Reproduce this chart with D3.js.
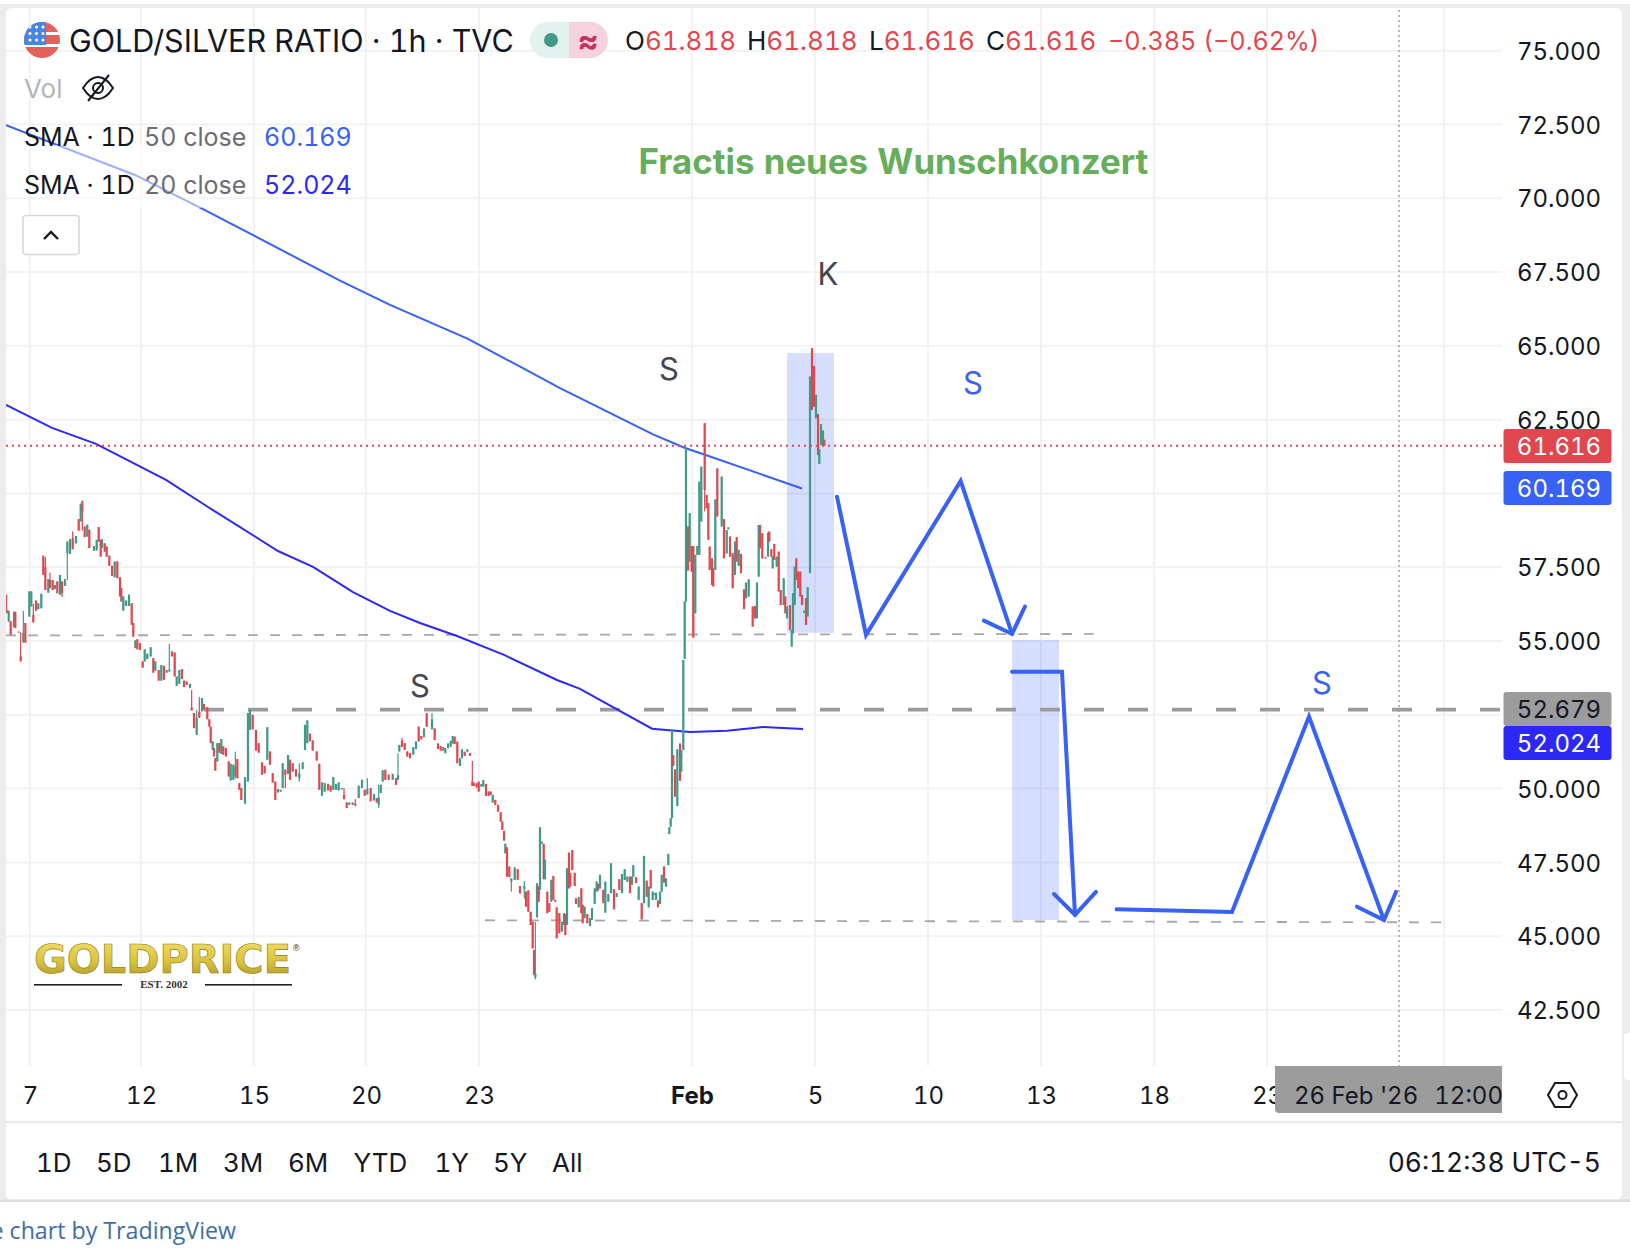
<!DOCTYPE html>
<html>
<head>
<meta charset="utf-8">
<title>Gold/Silver Ratio</title>
<script src="https://cdn.jsdelivr.net/npm/d3@7"></script>
<style>
  html, body { margin: 0; padding: 0; background: #fff; }
  svg { display: block; font-family: Inter, "Noto Sans", sans-serif; font-variant-numeric: tabular-nums; font-feature-settings: "tnum" 1; }
  text { fill: #131722; }
</style>
</head>
<body>
<div id="chart"></div>
<script>
// time is in "slots" along the compressed trading axis, price is the ratio
const priceTicks = [75, 72.5, 70, 67.5, 65, 62.5, 60, 57.5, 55, 52.5, 50, 47.5, 45, 42.5];
const priceLabels = [75, 72.5, 70, 67.5, 65, 62.5, 57.5, 55, 50, 47.5, 45, 42.5];
const timeTicks = [90, 423, 762, 1098, 1437, 2076, 2445, 2784, 3123, 3462, 3801, 4332];
const timeLabels = ["7", "12", "15", "20", "23", "Feb", "5", "10", "13", "18", "23", ""];
const rangeButtons = [["1D", 36], ["5D", 96], ["1M", 158], ["3M", 223], ["6M", 288], ["YTD", 353.5], ["1Y", 434.5], ["5Y", 493], ["All", 552]];

const lastPrice = 61.616;
const sma50Last = 60.169;
const sma20Last = 52.024;
const resistance = 52.679;

// [t, open, close, high, low]  (high/low left out where there is no visible wick)
const candles = [
  [20,56.05,55.95,56.57,55.94],[26,55.66,56.03],[32,55.67,55.21],[42,55.47,55.99],[46,55.99,55.44],[56,55.32,55.29],
  [62,54.48,54.31,55.29],[70,54.95,55.27,56.02],[76,55.61,54.95],[88,55.83,56.68],[94,56.17,56.68],[100,55.89,55.63,56.26],
  [108,56.37,56.03],[115,56.08,56.28],[124,56.11,56.60],[130,57.89,57.24],[136,57.50,56.73,57.84],[145,56.64,57.10],
  [150,57.07,56.79,57.32],[158,57.07,56.73],[165,56.76,56.90],[172,57.02,56.62],[180,56.57,57.24],[186,57.02,56.62,57.02,56.49],
  [195,56.87,57.10],[202,57.98,58.37,58.37,57.07],[210,57.95,58.45],[218,58.48,58.11,58.71],[228,58.31,58.56],[236,59.13,58.74],
  [242,59.05,59.65],[247,59.73,59.39,59.76,58.74],[254,58.88,58.52],[262,58.54,58.94],[268,58.77,58.15],[282,58.06,58.22],
  [290,58.07,58.43],[296,58.86,58.37],[302,58.43,57.86],[306,58.15,58.45],[314,58.31,58.03],[320,58.20,57.86],[328,57.89,57.55],
  [336,57.55,57.21],[344,57.16,57.69],[352,57.70,57.13],[360,57.16,56.51],[364,56.79,56.34],[370,56.03,56.51],[378,56.19,56.37],
  [387,56.19,56.57],[395,56.28,55.55],[400,55.61,55.15],[406,54.76,55.02],[412,55.06,54.72],[420,54.93,54.70],[428,54.31,54.10],
  [434,54.31,54.72],[442,54.39,54.57],[452,54.48,54.79],[460,54.42,53.93],[466,54.00,54.31],[476,54.02,53.66],[484,53.66,54.19],
  [492,54.16,53.69],[500,53.93,54.02],[508,53.97,54.03,54.90],[516,54.65,54.48],[524,54.61,53.80],[530,53.48,53.80],[538,53.55,54.02],
  [546,54.05,53.71],[552,53.66,53.44],[560,53.63,53.52],[570,53.41,53.55],[575,52.75,52.65,53.35],[582,52.56,52.05],
  [590,51.82,52.39,52.67],[598,52.60,52.40,53.10],[606,52.62,53.07],[612,52.87,52.67],[622,52.76,52.35],[628,52.35,52.10],
  [632,52.10,51.54],[638,51.31,51.60],[642,51.37,51.09],[646,51.03,50.61],[652,50.92,51.54],[658,51.54,51.22],[664,51.18,51.68],
  [670,51.43,51.15],[678,51.37,51.09],[686,50.92,50.41],[692,50.28,50.84],[700,50.30,50.81],[706,50.45,50.75,51.25,50.35],
  [712,51.00,50.35],[718,50.19,49.96],[724,50.02,49.62],[735,49.49,50.39],[744,50.24,52.56],[750,51.99,52.67],[758,52.50,52.01],
  [768,51.99,51.29],[776,51.54,51.22],[786,50.89,50.47],[794,50.77,50.52],[802,50.98,52.08],[810,51.26,50.81],[818,50.52,50.21],
  [826,50.24,49.62],[834,49.87,49.98],[842,49.90,49.96],[848,50.02,50.86],[856,50.64,50.47,50.64,50.02],[864,50.50,51.14],
  [870,50.98,50.30],[878,50.86,50.58],[888,50.66,50.41],[898,50.35,50.52,50.86,50.24],[908,50.66,50.89],[915,51.31,52.16],
  [922,51.54,52.31],[930,51.86,51.60],[938,51.63,51.29],[950,51.26,50.95],[958,50.84,49.96],[966,49.76,50.21],[974,49.90,50.19],
  [984,50.16,49.94],[992,50.10,49.90],[1000,49.96,50.39],[1008,49.96,50.16],[1016,49.94,50.21],[1026,49.98,50.02],
  [1032,49.79,49.64,50.02],[1040,49.53,49.34],[1048,49.45,49.53],[1058,49.45,49.53],[1066,49.49,49.42,49.64],[1076,49.68,50.10],
  [1086,50.02,50.30],[1094,49.96,49.76],[1102,49.80,50.00,50.35],[1112,50.02,49.57],[1122,49.60,49.82],[1130,49.68,49.53],
  [1136,49.46,49.70,50.13,49.34],[1142,49.85,50.13],[1148,50.24,50.62],[1156,50.64,50.30],[1166,50.47,50.30],[1178,50.30,50.50],
  [1188,50.35,50.13],[1194,50.30,50.45,51.20],[1198,51.26,51.48],[1206,51.63,51.41,51.71],[1214,51.54,51.31],[1222,51.26,51.09],
  [1230,51.20,51.03],[1240,51.15,51.41],[1248,51.34,51.60],[1256,52.10,51.60],
  [1264,51.78,51.67],[1272,51.74,52.04],[1280,52.55,52.10],[1296,52.01,52.35,52.55],[1304,52.04,51.65],[1314,51.53,51.34],
  [1322,51.44,51.29],[1330,51.40,51.29],[1336,51.20,51.37],[1344,51.37,51.53],[1352,51.42,51.62],[1358,51.53,51.78],[1364,51.76,51.51],
  [1372,51.59,50.86],[1380,50.77,51.03],[1386,51.03,51.33],[1394,51.25,51.11],[1402,51.25,51.33],[1410,51.20,51.11],
  [1417,50.24,50.09,50.94],[1422,50.20,50.09],[1430,50.18,50.04],[1436,50.24,49.90],[1444,50.07,50.15],[1450,50.07,50.29],
  [1458,50.16,49.75],[1466,49.90,49.75],[1472,49.90,49.79],[1478,49.53,49.79],[1486,49.62,49.45],[1494,49.45,49.22],[1502,49.20,48.88],
  [1507,48.88,48.60],[1512,48.57,48.24],[1516,47.81,48.13],[1521,48.01,47.02],[1528,47.36,47.00],[1534,46.85,46.96,46.96,46.51],
  [1544,46.91,47.33],[1553,47.27,46.91],[1560,46.70,46.45],[1573,46.60,46.70,46.87,46.28],[1578,46.51,46.00],[1585,46.55,45.83],
  [1592,45.83,45.38],[1598,45.49,44.59],[1602,44.53,43.69],[1606,43.60,43.75,45.49,43.54],[1611,45.64,46.79],[1616,46.70,46.17],
  [1620,46.57,48.69],[1626,48.14,48.20],[1631,48.13,46.93],[1635,46.93,47.60],[1642,46.51,45.78],[1648,46.12,45.83],[1654,46.17,46.91],
  [1660,47.04,46.23],[1666,46.23,46.17],[1670,45.98,44.93],[1678,45.78,45.10],[1686,45.16,45.49],[1692,45.38,45.78],[1696,45.75,45.04],
  [1701,45.38,47.30],[1707,47.83,46.62],[1711,47.13,46.68],[1717,47.92,47.24],[1724,47.15,46.70],[1728,46.28,46.09],[1736,45.98,46.32],
  [1744,46.62,45.78],[1748,46.06,45.44],[1754,45.61,46.00],[1762,45.75,45.44],[1770,45.35,45.61],[1776,45.55,45.95],[1784,46.09,46.62],
  [1790,46.51,46.85],[1794,46.77,46.55],[1800,46.62,47.08],[1810,46.57,46.12],[1816,45.80,46.85],[1825,46.17,46.43],[1833,46.46,47.47],
  [1842,46.59,45.91],[1850,46.33,46.46],[1858,46.93,46.57],[1866,46.46,47.11],[1874,46.91,47.27],[1882,46.85,47.02],[1890,47.02,46.46],
  [1896,46.74,47.02],[1900,47.02,47.41],[1908,47.00,46.80],[1916,46.23,46.68],[1925,46.12,45.57],[1932,46.12,47.72],[1940,46.88,46.34],
  [1946,45.98,46.68],[1952,47.24,46.62],[1958,46.23,46.51],[1964,46.40,46.45],[1968,46.23,46.47],[1974,46.21,45.98],[1980,46.09,46.51],
  [1985,46.51,47.08],[1992,47.36,46.82],[1998,46.68,46.96],[2005,47.41,47.79],[2008,48.46,48.69],[2012,48.71,49.00],[2016,49.00,52.01],
  [2020,51.14,50.77],[2025,50.65,49.73],[2032,49.41,51.33],[2040,51.53,50.27],[2044,50.58,51.30],[2050,51.31,54.36],[2054,54.40,56.34],
  [2058,56.34,61.56],[2064,58.88,57.39],[2069,57.69,59.33],[2075,58.22,57.35],[2080,58.22,55.12],[2086,55.94,57.92],[2092,57.92,58.22],
  [2098,57.92,60.40],[2104,59.05,60.91],[2114,62.38,60.12,62.38,59.39],[2120,59.95,59.50],[2125,59.67,58.43],[2129,58.20,57.41],
  [2136,57.80,56.90],[2140,57.46,56.85],[2146,57.41,59.80],[2152,60.85,59.22],[2165,58.88,60.57],[2172,59.13,57.80],[2180,57.97,58.76],
  [2185,58.79,58.85],[2190,58.54,57.86],[2198,57.97,56.79],[2205,57.24,58.37],[2210,58.52,57.69],[2216,57.55,58.09],[2223,57.95,57.30],
  [2232,56.75,56.08],[2238,56.45,56.98],[2246,56.51,57.09],[2258,56.17,55.49],[2265,56.19,55.77],[2271,55.77,56.98],[2276,57.18,58.93],
  [2280,58.93,58.14],[2287,58.65,57.80],[2296,57.84,57.80],[2304,57.86,58.67],[2308,58.71,58.37],[2314,58.11,57.86],[2318,57.46,57.88],
  [2323,58.29,57.75],[2330,57.52,57.86],[2336,58.03,56.68],[2342,56.73,56.22],[2351,56.22,57.13],[2356,56.51,55.94],[2361,55.77,56.17],
  [2370,56.22,55.38],[2375,54.81,55.38],[2379,55.26,56.62],[2384,56.22,57.52],[2389,57.80,57.07],[2395,57.35,56.79],[2401,57.35,56.51],
  [2406,56.56,56.22],[2413,55.96,56.03],[2418,56.45,55.55],[2423,55.83,56.82],[2430,57.30,63.96],[2436,64.92,62.83],[2442,64.32,62.94],
  [2448,62.55,63.34],[2454,62.69,61.30],[2458,61.00,61.50],[2463,61.64,62.35],[2469,61.64,62.13],[2473,61.818,61.616]
];

const sma50T = [18, 405, 603, 1017, 1170, 1404, 1680, 1959, 2055, 2115, 2406];
const sma50 = [72.48, 70.79, 69.67, 67.23, 66.39, 65.24, 63.57, 62.00, 61.54, 61.31, sma50Last];
const sma20T = [18, 156, 288, 498, 624, 834, 939, 1059, 1170, 1260, 1371, 1512, 1671, 1740, 1956, 2070, 2181, 2289, 2409];
const sma20 = [63.00, 62.22, 61.68, 60.46, 59.54, 58.05, 57.51, 56.66, 56.02, 55.61, 55.17, 54.53, 53.68, 53.38, 52.03, 51.92, 51.96, 52.09, sma20Last];

// drawings on the chart, [t, price]
const supportUpper = [[18, 55.19], [3281, 55.24]];
const supportLower = [[1455, 45.54], [4323, 45.47]];
const zoneBoxes = [[2361, 2502, 64.76, 55.28], [3036, 3177, 55.04, 45.55]];
const forecastPaths = [
  [[2511, 59.89], [2598, 55.21], [2882, 60.42], [3036, 55.24]],
  [[2952, 55.69], [3036, 55.24], [3075, 56.17]],
  [[3036, 53.96], [3186, 53.96], [3225, 45.72]],
  [[3162, 46.43], [3225, 45.72], [3288, 46.50]],
  [[3350, 45.91], [3696, 45.82], [3927, 52.44], [4152, 45.55]],
  [[4071, 46.00], [4152, 45.55], [4188, 46.50]]
];
const waveLabels = [
  ["S", 2007, 63.83, "#434651"], ["K", 2484, 67.07, "#434651"], ["S", 2919, 63.36, "#3861f6"],
  ["S", 1260, 53.09, "#434651"], ["S", 3966, 53.19, "#3861f6"]
];
const crosshairT = 4197;

const red = "#e0474f", green = "#3f9a87", blue = "#3861f6", navy = "#2c28f5", greyBadge = "#9c9c9c";

const W = 1630, H = 1256, plotLeft = 6, plotRight = 1502, plotTop = 8, plotBottom = 1066;

const x = d3.scaleLinear().domain([0, 4890]).range([0, W]);
const y = d3.scaleLinear().domain([75, 42.5]).range([50.7, 1010]);

const svg = d3.select("#chart").append("svg").attr("width", W).attr("height", H);
const defs = svg.append("defs");

// page frame
svg.append("rect").attr("x", 0).attr("y", 4).attr("width", W).attr("height", 1196).attr("fill", "#ececec");
svg.append("rect").attr("x", plotLeft).attr("y", plotTop).attr("width", 1616).attr("height", 1192).attr("rx", 6).attr("fill", "#fff");
svg.append("rect").attr("x", 1624).attr("y", 1033).attr("width", 8).attr("height", 47).attr("rx", 4).attr("fill", "#fff");

defs.append("clipPath").attr("id", "plotClip").append("rect")
  .attr("x", plotLeft).attr("y", plotTop).attr("width", plotRight - plotLeft).attr("height", plotBottom - plotTop);

const plot = svg.append("g").attr("clip-path", "url(#plotClip)");

// grid
plot.selectAll(".hgrid").data(priceTicks).join("line")
  .attr("x1", plotLeft).attr("x2", plotRight)
  .attr("y1", d => y(d)).attr("y2", d => y(d))
  .attr("stroke", "#f2f2f3").attr("stroke-width", 2);
plot.selectAll(".vgrid").data(timeTicks).join("line")
  .attr("x1", d => x(d)).attr("x2", d => x(d))
  .attr("y1", plotTop).attr("y2", plotBottom)
  .attr("stroke", "#f2f2f3").attr("stroke-width", 2);

// zones go under the candles
plot.selectAll(".zone").data(zoneBoxes).join("rect")
  .attr("x", d => x(d[0])).attr("width", d => x(d[1]) - x(d[0]))
  .attr("y", d => y(d[2])).attr("height", d => y(d[3]) - y(d[2]))
  .attr("fill", blue).attr("fill-opacity", 0.21);

// crosshair
plot.append("line")
  .attr("x1", x(crosshairT)).attr("x2", x(crosshairT)).attr("y1", plotTop - 8).attr("y2", plotBottom)
  .attr("stroke", "#999").attr("stroke-width", 1.4).attr("stroke-dasharray", "2 3");

const line = d3.line().x(d => x(d[0])).y(d => y(d[1]));

// support / resistance
plot.append("path").attr("d", line(supportUpper)).attr("fill", "none")
  .attr("stroke", "#a8a8a8").attr("stroke-width", 1.8).attr("stroke-dasharray", "10 12");
plot.append("path").attr("d", line(supportLower)).attr("fill", "none")
  .attr("stroke", "#a8a8a8").attr("stroke-width", 1.8).attr("stroke-dasharray", "10 12");
plot.append("path").attr("d", line([[612, resistance], [4506, resistance]])).attr("fill", "none")
  .attr("stroke", greyBadge).attr("stroke-width", 3.8).attr("stroke-dasharray", "20 24");

// SMAs
plot.append("path").attr("d", line(sma50T.map((t, i) => [t, sma50[i]]))).attr("fill", "none").attr("stroke", blue).attr("stroke-width", 2);
plot.append("path").attr("d", line(sma20T.map((t, i) => [t, sma20[i]]))).attr("fill", "none").attr("stroke", navy).attr("stroke-width", 2);

// candles
const candle = plot.selectAll(".candle").data(candles).join("g")
  .attr("fill", d => d[2] >= d[1] ? green : red);
candle.append("rect")
  .attr("x", d => x(d[0]) - 0.6).attr("width", 1.2)
  .attr("y", d => y(d[3] ?? Math.max(d[1], d[2])))
  .attr("height", d => y(d[4] ?? Math.min(d[1], d[2])) - y(d[3] ?? Math.max(d[1], d[2])));
candle.append("rect")
  .attr("x", d => x(d[0]) - 1.1).attr("width", 2.2)
  .attr("y", d => y(Math.max(d[1], d[2])))
  .attr("height", d => Math.max(1, Math.abs(y(d[1]) - y(d[2]))));

// last price line
plot.append("line")
  .attr("x1", plotLeft).attr("x2", plotRight).attr("y1", y(lastPrice)).attr("y2", y(lastPrice))
  .attr("stroke", red).attr("stroke-width", 2).attr("stroke-dasharray", "2 4");

// forecast arrows
plot.selectAll(".forecast").data(forecastPaths).join("path")
  .attr("d", line).attr("fill", "none")
  .attr("stroke", blue).attr("stroke-width", 4).attr("stroke-linecap", "round").attr("stroke-linejoin", "miter");

plot.selectAll(".wave").data(waveLabels).join("text")
  .attr("x", d => x(d[1])).attr("y", d => y(d[2]))
  .attr("text-anchor", "middle").attr("font-size", 31)
  .style("fill", d => d[3]).text(d => d[0]);

svg.append("text").attr("x", 893.5).attr("y", 174)
  .attr("text-anchor", "middle").attr("font-size", 34.8).attr("font-weight", 700)
  .style("fill", "#66ad5c").text("Fractis neues Wunschkonzert");

// price axis
const yAxis = d3.axisRight(y).tickValues(priceLabels).tickSize(0).tickPadding(0).tickFormat(d3.format(".3f"));
svg.append("g").attr("transform", "translate(1559,0)").call(yAxis)
  .call(g => g.select(".domain").remove())
  .call(g => g.selectAll("text").attr("x", 0).attr("text-anchor", "middle").attr("font-size", 24).attr("font-family", "Inter").attr("dy", "0.36em"));

// badges
const badges = [
  [lastPrice, red, "#fff"], [sma50Last, blue, "#fff"], [resistance, greyBadge, "#131722"], [sma20Last, navy, "#fff"]
];
const badgeY = [446, 488, 709, 743];
const badge = svg.selectAll(".badge").data(badges).join("g");
badge.append("rect")
  .attr("x", 1503.5).attr("width", 108).attr("height", 34).attr("rx", 3)
  .attr("y", (d, i) => badgeY[i] - 17).attr("fill", d => d[1]);
badge.append("text")
  .attr("x", 1559).attr("y", (d, i) => badgeY[i]).attr("dy", "0.36em")
  .attr("text-anchor", "middle").attr("font-size", 24)
  .style("fill", d => d[2]).text(d => d3.format(".3f")(d[0]));

// time axis
const xAxis = d3.axisBottom(x).tickValues(timeTicks).tickSize(0).tickPadding(0).tickFormat((d, i) => timeLabels[i]);
svg.append("g").attr("transform", "translate(0,1095)").call(xAxis)
  .call(g => g.select(".domain").remove())
  .call(g => g.selectAll("text").attr("y", 0).attr("dy", "0.36em").attr("font-size", 24).attr("font-family", "Inter")
    .attr("font-weight", (d, i) => timeLabels[i] === "Feb" ? 700 : 400));

// crosshair date tag
svg.append("path").attr("d", "M1275 1066H1502V1113H1279Q1275 1113 1275 1109Z").attr("fill", greyBadge);
svg.append("text").attr("x", 1294).attr("y", 1095).attr("dy", "0.36em").attr("font-size", 24).text("26 Feb '26");
svg.append("text").attr("x", 1503).attr("y", 1095).attr("dy", "0.36em").attr("font-size", 24).attr("text-anchor", "end").text("12:00");

// settings hexagon
svg.append("path").attr("d", "M1555 1083H1570L1577 1095L1570 1107H1555L1548 1095Z")
  .attr("fill", "none").attr("stroke", "#131722").attr("stroke-width", 2);
svg.append("circle").attr("cx", 1562.5).attr("cy", 1095).attr("r", 4)
  .attr("fill", "none").attr("stroke", "#131722").attr("stroke-width", 2);

// footer bars
svg.append("rect").attr("x", plotLeft).attr("y", 1121).attr("width", 1616).attr("height", 2.4).attr("fill", "#eaeaea");
svg.append("rect").attr("x", 0).attr("y", 1199.5).attr("width", W).attr("height", 2.4).attr("fill", "#dcdcdc");

svg.selectAll(".range").data(rangeButtons).join("text")
  .attr("x", d => d[1]).attr("y", 1163).attr("dy", "0.36em").attr("font-size", 26).text(d => d[0]);
svg.append("text").attr("x", 1601).attr("y", 1162).attr("dy", "0.36em").attr("text-anchor", "end").attr("font-size", 26.4).text("06:12:38 UTC-5");
svg.append("text").attr("x", 236).attr("y", 1231).attr("dy", "0.36em").attr("text-anchor", "end")
  .attr("font-size", 23.2).attr("font-family", "Open Sans").style("fill", "#3d6f9e").text("e chart by TradingView");

// logo
const goldGrad = defs.append("linearGradient").attr("id", "gold").attr("x1", 0).attr("x2", 0).attr("y1", 0).attr("y2", 1);
goldGrad.append("stop").attr("offset", "0%").attr("stop-color", "#f3e26a");
goldGrad.append("stop").attr("offset", "55%").attr("stop-color", "#d9c23c");
goldGrad.append("stop").attr("offset", "100%").attr("stop-color", "#a8912a");
svg.append("text").attr("x", 34).attr("y", 973).attr("textLength", 257).attr("lengthAdjust", "spacingAndGlyphs")
  .attr("font-size", 39).attr("font-weight", 700).attr("font-family", "DejaVu Sans")
  .style("fill", "url(#gold)").attr("stroke", "#8d7a22").attr("stroke-width", 0.6).text("GOLDPRICE");
svg.append("text").attr("x", 293).attr("y", 951).attr("font-size", 9).attr("font-family", "Liberation Sans").text("®");
svg.append("rect").attr("x", 34).attr("y", 984).attr("width", 88).attr("height", 1.6).attr("fill", "#222");
svg.append("rect").attr("x", 205).attr("y", 984).attr("width", 87).attr("height", 1.6).attr("fill", "#222");
svg.append("text").attr("x", 164).attr("y", 988).attr("text-anchor", "middle").attr("font-size", 11).attr("font-weight", 700)
  .attr("font-family", "Liberation Serif").style("fill", "#333").text("EST. 2002");

// legend veil over the SMA line
svg.append("rect").attr("x", 50).attr("y", 145).attr("width", 151).attr("height", 63).attr("fill", "#fff").attr("fill-opacity", 0.5);

// title row
defs.append("clipPath").attr("id", "flagClip").append("circle").attr("cx", 42).attr("cy", 40).attr("r", 18);
const flag = svg.append("g").attr("clip-path", "url(#flagClip)");
flag.append("rect").attr("x", 24).attr("y", 22).attr("width", 36).attr("height", 36).attr("fill", "#fff");
[[22, 10], [35, 9], [47, 11]].forEach(s => {
  flag.append("rect").attr("x", 24).attr("y", s[0]).attr("width", 36).attr("height", s[1]).attr("fill", "#e2615c");
});
flag.append("rect").attr("x", 24).attr("y", 22).attr("width", 22).attr("height", 23).attr("fill", "#4a86e0");
d3.range(3).forEach(r => d3.range(3).forEach(c => {
  flag.append("circle").attr("cx", 30 + c * 6.5).attr("cy", 27 + r * 6.5).attr("r", 1.5).attr("fill", "#fff");
}));

svg.append("text").attr("x", 69).attr("y", 41).attr("dy", "0.36em").attr("font-size", 30.5).text("GOLD/SILVER RATIO · 1h · TVC");

svg.append("path").attr("d", "M569 22H548A18 18 0 0 0 548 58H569Z").attr("fill", "#e4f2ef");
svg.append("path").attr("d", "M569 22H590A18 18 0 0 1 590 58H569Z").attr("fill", "#f4d3df");
svg.append("circle").attr("cx", 551).attr("cy", 40).attr("r", 7).attr("fill", green);
svg.append("text").attr("x", 588).attr("y", 40).attr("dy", "0.36em").attr("text-anchor", "middle")
  .attr("font-size", 32).attr("font-weight", 700).style("fill", "#c9305f").text("≈");

const ohlc = [["O", "61.818", 625], ["H", "61.818", 747], ["L", "61.616", 869], ["C", "61.616", 986]];
ohlc.forEach(d => {
  const t = svg.append("text").attr("x", d[2]).attr("y", 41).attr("dy", "0.36em").attr("font-size", 26);
  t.append("tspan").text(d[0]);
  t.append("tspan").style("fill", red).text(d[1]);
});
svg.append("text").attr("x", 1108).attr("y", 41).attr("dy", "0.36em").attr("font-size", 25.2).style("fill", red).text("−0.385 (−0.62%)");

svg.append("text").attr("x", 24).attr("y", 89).attr("dy", "0.36em").attr("font-size", 26).style("fill", "#b5b5b5").text("Vol");
const eye = svg.append("g").attr("transform", "translate(98,88)").attr("fill", "none").attr("stroke", "#131722").attr("stroke-width", 2);
eye.append("path").attr("d", "M-15 0Q-8 -11 0 -11Q8 -11 15 0Q8 11 0 11Q-8 11 -15 0Z");
eye.append("circle").attr("r", 5);
eye.append("line").attr("x1", -10).attr("y1", 13).attr("x2", 11).attr("y2", -13);

const legendRows = [["50", sma50Last, blue, 137], ["20", sma20Last, navy, 185]];
legendRows.forEach(d => {
  svg.append("text").attr("x", 24).attr("y", d[3]).attr("dy", "0.36em").attr("font-size", 25).text("SMA · 1D");
  svg.append("text").attr("x", 144).attr("y", d[3]).attr("dy", "0.36em").attr("font-size", 25).style("fill", "#6a6d78").text(d[0] + " close");
  svg.append("text").attr("x", 264).attr("y", d[3]).attr("dy", "0.36em").attr("font-size", 25).style("fill", d[2]).text(d3.format(".3f")(d[1]));
});

svg.append("rect").attr("x", 23).attr("y", 215.5).attr("width", 56).attr("height", 39).attr("rx", 3)
  .attr("fill", "#fff").attr("stroke", "#d8d8d8").attr("stroke-width", 1.6);
svg.append("path").attr("d", "M44 239L51 232L58 239").attr("fill", "none").attr("stroke", "#131722").attr("stroke-width", 2.4);
</script>
</body>
</html>
